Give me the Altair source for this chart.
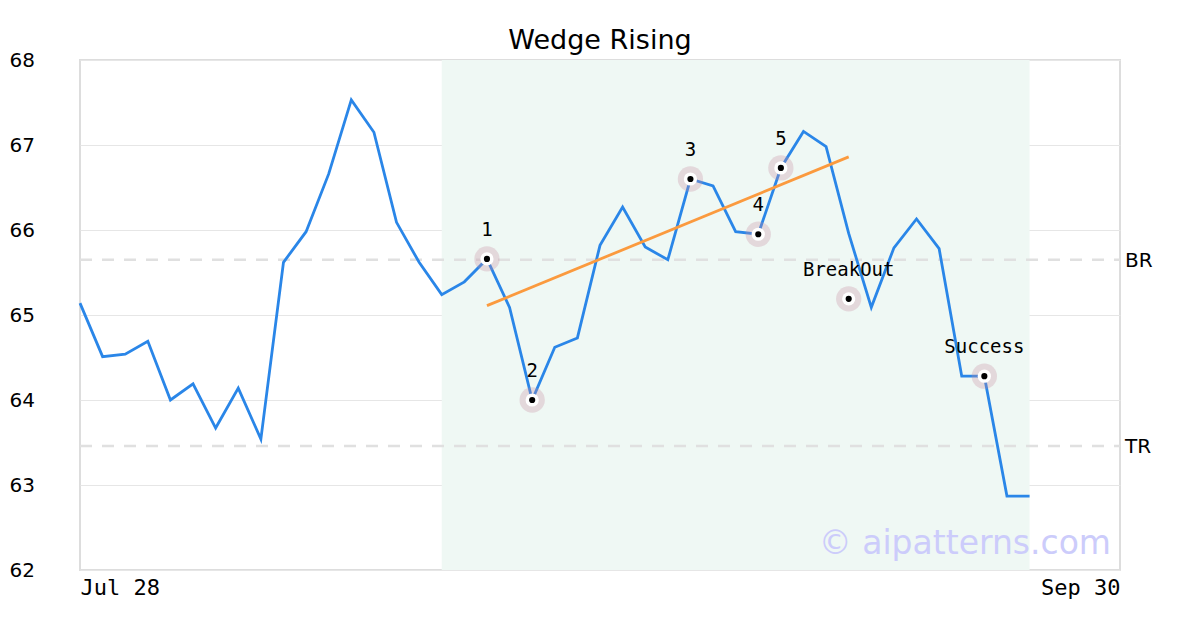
import altair as alt
import pandas as pd

# Closing prices by trading-day index (0 = Jul 28)
prices = [65.14, 64.51, 64.54, 64.69, 64.00, 64.19, 63.67, 64.14, 63.54, 65.62,
          65.98, 66.66, 67.53, 67.15, 66.09, 65.62, 65.24, 65.39, 65.66, 65.09,
          64.00, 64.62, 64.73, 65.82, 66.27, 65.80, 65.65, 66.60, 66.52, 65.98,
          65.95, 66.73, 67.16, 66.98, 65.96, 65.09, 65.79, 66.13, 65.78, 64.28,
          64.28, 62.87, 62.87]
idx = list(range(len(prices)))

# Pattern points
pt_labels = ["1", "2", "3", "4", "5", "BreakOut", "Success"]
pt_idx = [18, 20, 27, 30, 31, 34, 40]
pt_vals = [65.66, 64.00, 66.60, 65.95, 66.73, 65.19, 64.28]

# Trend line endpoints
trend_idx = [18, 34]
trend_vals = [65.11, 66.86]

# Horizontal levels
level_names = ["BR", "TR"]
level_vals = [65.65, 63.46]

# Shaded pattern window
shade_start, shade_end = 16, 42
x_max = 46
x_tick_labels = ["Jul 28", "Sep 30"]
title_text = "Wedge Rising"

W, H = 1040, 510
xs = alt.Scale(domain=[0, x_max], nice=False, zero=False)
ys = alt.Scale(domain=[62, 68], nice=False, zero=False)

line_df = pd.DataFrame({"i": idx, "v": prices})
pts_df = pd.DataFrame({"i": pt_idx, "v": pt_vals, "lab": pt_labels})
trend_df = pd.DataFrame({"i": trend_idx, "v": trend_vals})
lvl_df = pd.DataFrame({"name": level_names, "v": level_vals, "i": [x_max, x_max]})
shade_df = pd.DataFrame({"a": [shade_start], "b": [shade_end], "lo": [62], "hi": [68]})

shade = alt.Chart(shade_df).mark_rect(color="#eff8f4").encode(
    x=alt.X("a:Q", scale=xs,
            axis=alt.Axis(values=[0, x_max],
                          labelExpr=f"datum.value == 0 ? '{x_tick_labels[0]}' : '{x_tick_labels[1]}'",
                          labelFlush=True, labelFont="DejaVu Sans Mono", labelFontSize=22,
                          labelColor="#000", labelPadding=7, grid=False, ticks=False,
                          domain=False, title=None)),
    x2="b:Q",
    y=alt.Y("lo:Q", scale=ys,
            axis=alt.Axis(values=[62, 63, 64, 65, 66, 67, 68], format="d", labelAlign="left",
                          labelPadding=71, labelFont="DejaVu Sans", labelFontSize=20,
                          labelColor="#000", ticks=False, domain=False, grid=True,
                          gridColor="#e6e6e6", gridWidth=1, title=None)),
    y2="hi:Q",
)

levels = alt.Chart(lvl_df).mark_rule(color="#e0e0e0", strokeWidth=2.5, strokeDash=[12, 10]).encode(
    y=alt.Y("v:Q", scale=ys), x=alt.value(0), x2=alt.value(W)
)
level_text = alt.Chart(lvl_df).mark_text(align="left", baseline="middle", dx=5, dy=1, fontSize=20,
                                          font="DejaVu Sans", color="#000", clip=False).encode(
    x=alt.X("i:Q", scale=xs), y=alt.Y("v:Q", scale=ys), text="name:N"
)

line = alt.Chart(line_df).mark_line(color="#2a86e8", strokeWidth=2.8).encode(
    x=alt.X("i:Q", scale=xs), y=alt.Y("v:Q", scale=ys)
)
trend = alt.Chart(trend_df).mark_line(color="#fb9a3e", strokeWidth=2.8).encode(
    x=alt.X("i:Q", scale=xs), y=alt.Y("v:Q", scale=ys)
)

halo = alt.Chart(pts_df).mark_circle(size=640, color="#c890a2", opacity=0.3).encode(
    x=alt.X("i:Q", scale=xs), y=alt.Y("v:Q", scale=ys)
)
white = alt.Chart(pts_df).mark_circle(size=175, color="#ffffff", opacity=1).encode(
    x=alt.X("i:Q", scale=xs), y=alt.Y("v:Q", scale=ys)
)
dot = alt.Chart(pts_df).mark_circle(size=38, color="#000000", opacity=1).encode(
    x=alt.X("i:Q", scale=xs), y=alt.Y("v:Q", scale=ys)
)
labels = alt.Chart(pts_df).mark_text(dy=-29, fontSize=19, font="DejaVu Sans Mono",
                                      color="#000", baseline="middle").encode(
    x=alt.X("i:Q", scale=xs), y=alt.Y("v:Q", scale=ys), text="lab:N"
)

watermark = alt.Chart(pd.DataFrame({"t": ["© aipatterns.com"]})).mark_text(
    align="right", baseline="alphabetic", fontSize=33, font="DejaVu Sans", color="#ccccfb"
).encode(x=alt.value(1031), y=alt.value(494), text="t:N")

title = alt.Chart(pd.DataFrame({"t": [title_text]})).mark_text(
    align="center", baseline="middle", fontSize=27, font="DejaVu Sans", color="#000", clip=False
).encode(x=alt.value(520), y=alt.value(-19), text="t:N")

chart = alt.layer(shade, levels, line, trend, halo, white, dot, labels, level_text, watermark, title).properties(
    width=W, height=H,
    autosize=alt.AutoSizeParams(type="none"),
    padding={"left": 72, "top": 52, "right": 72, "bottom": 52},
).configure_view(stroke="#dddddd", strokeWidth=2)

chart.save("out.html", embed_options={"renderer": "svg", "actions": False})
